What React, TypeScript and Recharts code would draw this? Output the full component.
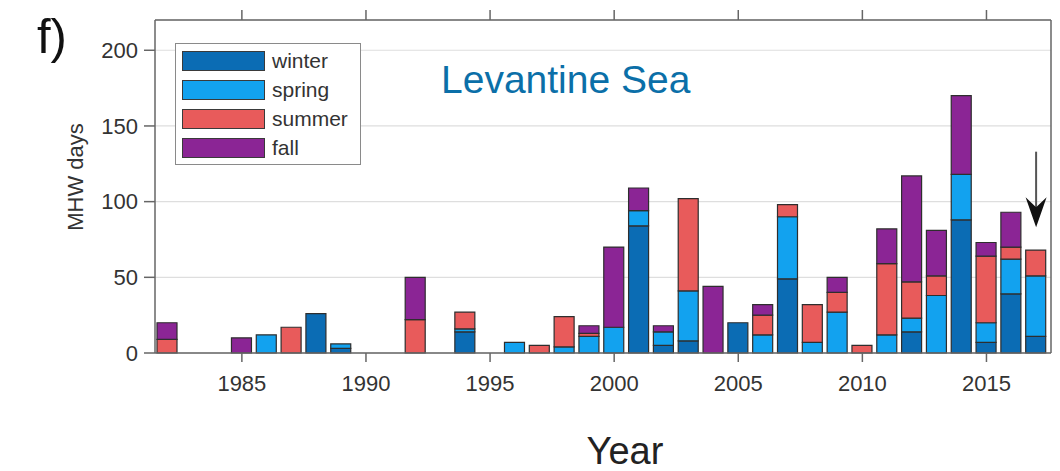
import React from 'react';
import {
  BarChart,
  Bar,
  XAxis,
  YAxis,
  CartesianGrid,
  Legend,
  ReferenceLine,
  Customized,
} from 'recharts';

// Marine heatwave days per season, Levantine Sea
const years = [
  1982, 1985, 1986, 1987, 1988, 1989, 1992, 1994, 1996, 1997, 1998, 1999, 2000, 2001, 2002,
  2003, 2004, 2005, 2006, 2007, 2008, 2009, 2010, 2011, 2012, 2013, 2014, 2015, 2016, 2017,
];
const winter = [0, 0, 0, 0, 26, 3, 0, 14, 0, 0, 0, 0, 0, 84, 5, 8, 0, 20, 0, 49, 0, 0, 0, 0, 14, 0, 88, 7, 39, 11];
const spring = [0, 0, 12, 0, 0, 3, 0, 2, 7, 0, 4, 11, 17, 10, 9, 33, 0, 0, 12, 41, 7, 27, 0, 12, 9, 38, 30, 13, 23, 40];
const summer = [9, 0, 0, 17, 0, 0, 22, 11, 0, 5, 20, 2, 0, 0, 0, 61, 0, 0, 13, 8, 25, 13, 5, 47, 24, 13, 0, 44, 8, 17];
const fall = [11, 10, 0, 0, 0, 0, 28, 0, 0, 0, 0, 5, 53, 15, 4, 0, 44, 0, 7, 0, 0, 10, 0, 23, 70, 30, 52, 9, 23, 0];

const yearTicks = [1985, 1990, 1995, 2000, 2005, 2010, 2015];
const dayTicks = [0, 50, 100, 150, 200];

// Arrow marking the latest year
const arrowYear = 2017;
const arrowFrom = 133;
const arrowTo = 83;

const seasons = [
  { key: 'winter', color: '#0b6cb4' },
  { key: 'spring', color: '#12a2ef' },
  { key: 'summer', color: '#e85b5b' },
  { key: 'fall', color: '#8b2595' },
];
const seasonOrder = seasons.map((s) => s.key);

const data = years.map((year, i) => ({
  year,
  winter: winter[i],
  spring: spring[i],
  summer: summer[i],
  fall: fall[i],
}));

const FONT = '"Liberation Sans", Arial, Helvetica, sans-serif';
const AXIS = '#666';
const TEXT = '#333';

const tickStyle = { fontSize: 22, fill: TEXT, fontFamily: FONT };
const blank = () => '';

const ArrowShape = (props: any) => {
  const { x1, y1, x2, y2 } = props;
  const head = 30;
  const half = 10.5;
  const notch = 10;
  return (
    <g>
      <line x1={x1} y1={y1} x2={x2} y2={y2 - 14} stroke="#555" strokeWidth={2} />
      <polygon
        points={`${x2},${y2} ${x2 - half},${y2 - head} ${x2},${y2 - head + notch} ${x2 + half},${y2 - head}`}
        fill="#111"
      />
    </g>
  );
};

const SeasonLegend = (props: any) => {
  const payload = [...(props.payload || [])].sort(
    (a: any, b: any) => seasonOrder.indexOf(a.value) - seasonOrder.indexOf(b.value),
  );
  return (
    <div
      style={{
        border: '1.5px solid #8a8a8a',
        background: '#fff',
        padding: '6px 8px 6px 6px',
        boxSizing: 'border-box',
        fontFamily: FONT,
      }}
    >
      {payload.map((entry: any, i: number) => (
        <div
          key={entry.value}
          style={{
            display: 'flex',
            alignItems: 'center',
            height: 21,
            marginBottom: i === payload.length - 1 ? 0 : 8,
          }}
        >
          <span
            style={{
              display: 'inline-block',
              width: 83,
              height: 20,
              background: entry.color,
              border: '1px solid #3a3a3a',
              boxSizing: 'border-box',
            }}
          />
          <span style={{ marginLeft: 7, fontSize: 21, color: TEXT, lineHeight: '21px' }}>
            {entry.value}
          </span>
        </div>
      ))}
    </div>
  );
};

const Annotations = () => (
  <g fontFamily={FONT}>
    <text x={37} y={53} fontSize={49} fill="#111">
      f)
    </text>
    <text x={441} y={93} fontSize={39} fill="#0b6fa8">
      Levantine Sea
    </text>
    <text
      x={83}
      y={177}
      fontSize={22}
      fill={TEXT}
      textAnchor="middle"
      transform="rotate(-90 83 177)"
    >
      MHW days
    </text>
    <text x={625} y={464} fontSize={38} fill="#222" textAnchor="middle">
      Year
    </text>
  </g>
);

export default function App() {
  return (
    <div
      style={{
        position: 'absolute',
        left: 0,
        top: 0,
        width: 1060,
        height: 471,
        background: '#fff',
        overflow: 'hidden',
      }}
    >
      <BarChart
        width={1060}
        height={471}
        data={data}
        margin={{ top: 0, right: 0, bottom: 0, left: 0 }}
      >
        <CartesianGrid vertical={false} stroke="#dedede" strokeWidth={1.2} />
        <XAxis
          dataKey="year"
          type="number"
          domain={[1981.5, 2017.6]}
          ticks={yearTicks}
          allowDataOverflow
          height={118}
          stroke={AXIS}
          strokeWidth={1.5}
          tickSize={9}
          tickMargin={13}
          tick={tickStyle}
        />
        <XAxis
          xAxisId="top"
          dataKey="year"
          type="number"
          orientation="top"
          domain={[1981.5, 2017.6]}
          ticks={yearTicks}
          allowDataOverflow
          height={20}
          stroke={AXIS}
          strokeWidth={1.5}
          tickSize={10}
          tickFormatter={blank}
        />
        <YAxis
          type="number"
          domain={[0, 220]}
          ticks={dayTicks}
          width={155}
          stroke={AXIS}
          strokeWidth={1.5}
          tickSize={11}
          tickMargin={6}
          tick={tickStyle}
        />
        <YAxis
          yAxisId="right"
          orientation="right"
          type="number"
          domain={[0, 220]}
          ticks={dayTicks}
          width={9}
          stroke={AXIS}
          strokeWidth={1.5}
          tickSize={10}
          tickFormatter={blank}
        />
        <Legend
          layout="vertical"
          align="center"
          verticalAlign="middle"
          content={SeasonLegend}
          wrapperStyle={{ left: 175, top: 43, width: 186 }}
        />
        {seasons.map((s) => (
          <Bar
            key={s.key}
            dataKey={s.key}
            name={s.key}
            stackId="mhw"
            fill={s.color}
            stroke="#2e2e2e"
            strokeWidth={1.2}
            barSize={20}
            isAnimationActive={false}
          />
        ))}
        <ReferenceLine
          segment={[
            { x: arrowYear, y: arrowFrom },
            { x: arrowYear, y: arrowTo },
          ]}
          ifOverflow="visible"
          shape={ArrowShape}
        />
        <Customized component={Annotations} />
      </BarChart>
    </div>
  );
}
